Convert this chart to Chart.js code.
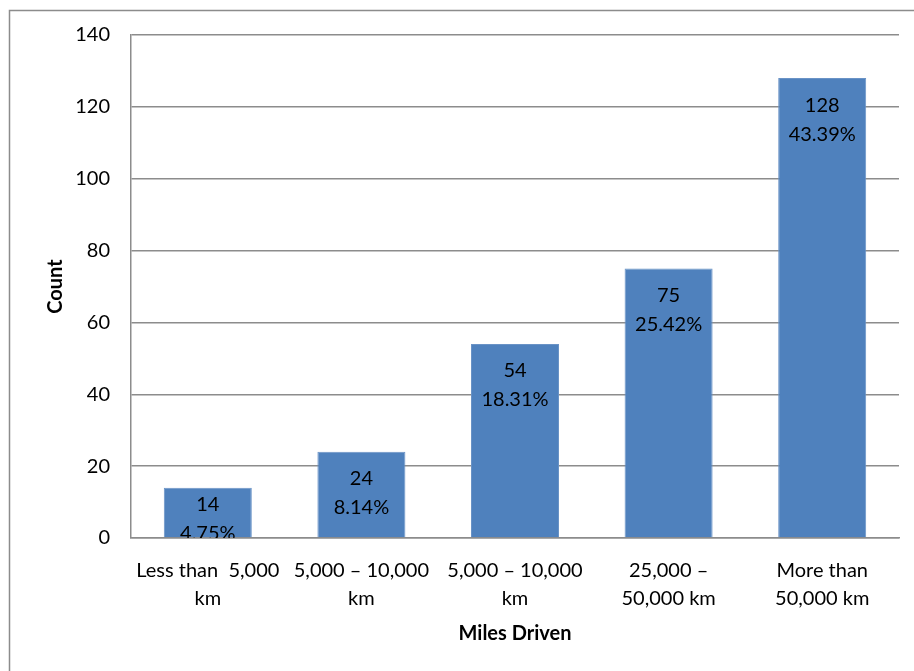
<!DOCTYPE html>
<html>
<head>
<meta charset="utf-8">
<title>Miles Driven</title>
<script src="https://cdn.jsdelivr.net/npm/chart.js@4.4.0/dist/chart.umd.min.js"></script>
<style>
    body { margin: 0; background: #fff; }
    #barChart { display: block; }
</style>
</head>
<body>
<canvas id="barChart" width="914" height="671"></canvas>
<script>
//Chart data
var categories = [
    ['Less than  5,000', 'km'],
    ['5,000 \u2013 10,000', 'km'],
    ['5,000 \u2013 10,000', 'km'],
    ['25,000 \u2013', '50,000 km'],
    ['More than', '50,000 km']
]
var counts = [14, 24, 54, 75, 128]
var yTicks = [0, 20, 40, 60, 80, 100, 120, 140]

var total = counts.reduce(function(a, b){ return a + b }, 0)
var percents = counts.map(function(v){ return (v / total * 100).toFixed(2) + '%' })

Chart.defaults.font.family = 'Lato, "Open Sans", sans-serif'
Chart.defaults.font.size = 20
Chart.defaults.color = '#000'

//Outer frame of the chart
var framePlugin = {
    id: 'frame',
    beforeDraw: function(chart){
        var ctx = chart.ctx
        ctx.save()
        ctx.strokeStyle = '#8c8c8c'
        ctx.lineWidth = 1.5
        ctx.strokeRect(9.5, 10.5, 1000, 1000)
        ctx.restore()
    }
}

//Count and percentage written inside the top of each bar
var barLabels = {
    id: 'barLabels',
    afterDatasetsDraw: function(chart){
        var ctx = chart.ctx
        var area = chart.chartArea
        var bars = chart.getDatasetMeta(0).data
        ctx.save()
        ctx.beginPath()
        ctx.rect(area.left, area.top, area.right - area.left, area.bottom - area.top)
        ctx.clip()
        ctx.font = '20px Lato, "Open Sans", sans-serif'
        ctx.fillStyle = '#000'
        ctx.textAlign = 'center'
        ctx.textBaseline = 'middle'
        bars.forEach(function(bar, i){
            var y = Math.min(bar.y + 27, bar.base - 33)
            ctx.fillText(String(counts[i]), bar.x, y)
            ctx.fillText(percents[i], bar.x, y + 29)
        })
        ctx.restore()
    }
}

var ctx = document.getElementById('barChart').getContext('2d')
var myChart = new Chart(ctx, {
    type: 'bar',
    data: {
        labels: categories,
        datasets: [{
            label: 'Count',
            data: counts,
            backgroundColor: '#4f81bd',
            borderColor: '#6a93c6',
            borderWidth: 1,
            barPercentage: 0.573,
            categoryPercentage: 1
        }]
    },
    options: {
        responsive: false,
        animation: false,
        layout: {
            padding: { left: 0, top: 35, right: 15, bottom: 0 }
        },
        plugins: {
            legend: { display: false },
            tooltip: { enabled: false }
        },
        scales: {
            x: {
                grid: { display: false },
                border: { display: true, color: '#8c8c8c', width: 1.5 },
                ticks: {
                    padding: 11,
                    font: { size: 20, lineHeight: 1.4 },
                    maxRotation: 0,
                    autoSkip: false
                },
                title: {
                    display: true,
                    text: 'Miles Driven',
                    font: { size: 20, weight: 'bold' },
                    padding: { top: 0, bottom: 25 }
                },
                afterFit: function(scale){ scale.height = 133 }
            },
            y: {
                min: 0,
                max: 140,
                grid: { color: '#8c8c8c', lineWidth: 1.5, drawTicks: false },
                border: { display: true, color: '#8c8c8c', width: 1.5 },
                ticks: { stepSize: 20, padding: 21 },
                afterBuildTicks: function(scale){
                    scale.ticks = yTicks.map(function(v){ return { value: v } })
                },
                title: {
                    display: true,
                    text: 'Count',
                    font: { size: 20, weight: 'bold' },
                    padding: { top: 44, bottom: 0 }
                },
                afterFit: function(scale){ scale.width = 131 }
            }
        }
    },
    plugins: [framePlugin, barLabels]
})
</script>
</body>
</html>
